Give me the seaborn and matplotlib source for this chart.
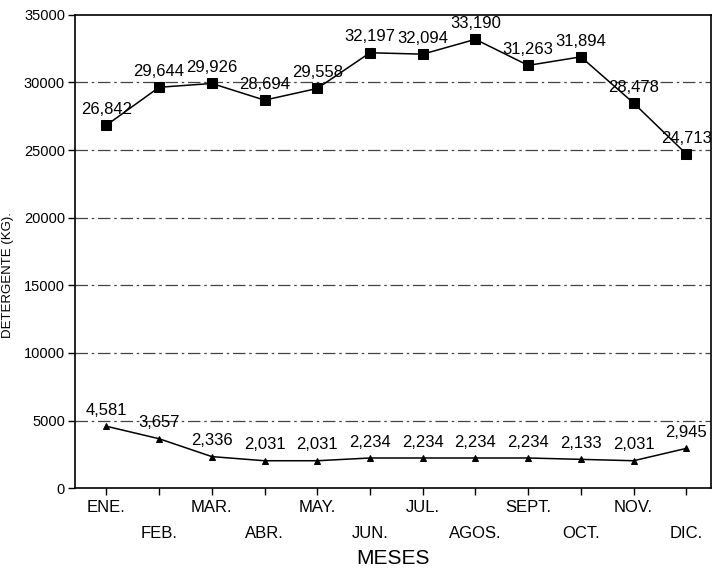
import matplotlib
matplotlib.use("Agg")
import matplotlib.pyplot as plt
import seaborn as sns
import pandas as pd

months = ["ENE.", "FEB.", "MAR.", "ABR.", "MAY.", "JUN.", "JUL.", "AGOS.",
          "SEPT.", "OCT.", "NOV.", "DIC."]
serie_alta = [26842, 29644, 29926, 28694, 29558, 32197, 32094, 33190,
              31263, 31894, 28478, 24713]
serie_baja = [4581, 3657, 2336, 2031, 2031, 2234, 2234, 2234,
              2234, 2133, 2031, 2945]
y_ticks = [0, 5000, 10000, 15000, 20000, 25000, 30000, 35000]

sns.set_style("ticks")
plt.rcParams["font.family"] = ["Liberation Sans", "DejaVu Sans"]
plt.rcParams["text.color"] = "black"
plt.rcParams["axes.labelcolor"] = "black"
plt.rcParams["xtick.color"] = "black"
plt.rcParams["ytick.color"] = "black"

df = pd.DataFrame({
    "idx": list(range(len(months))) * 2,
    "valor": serie_alta + serie_baja,
    "serie": ["alta"] * len(months) + ["baja"] * len(months),
})

fig = plt.figure(figsize=(7.12, 5.71), dpi=100)
ax = fig.add_axes([0.105, 0.145, 0.893, 0.829])

sns.lineplot(data=df[df.serie == "alta"], x="idx", y="valor", ax=ax,
             color="black", lw=1.1, marker="s", markersize=7,
             markeredgecolor="black", legend=False)
sns.lineplot(data=df[df.serie == "baja"], x="idx", y="valor", ax=ax,
             color="black", lw=1.1, marker="^", markersize=5,
             markeredgecolor="black", legend=False)

for i, v in enumerate(serie_alta):
    ax.annotate(f"{v:,}", (i, v), xytext=(0, 6), textcoords="offset points",
                ha="center", va="bottom", fontsize=12)
for i, v in enumerate(serie_baja):
    ax.annotate(f"{v:,}", (i, v), xytext=(0, 6), textcoords="offset points",
                ha="center", va="bottom", fontsize=12)

ax.set_xlim(-0.6, 11.46)
ax.set_ylim(0, 35000)
ax.set_yticks(y_ticks)
ax.set_yticklabels([str(t) for t in y_ticks], fontsize=10.5)
ax.set_xticks(range(len(months)))
ax.set_xticklabels([m if i % 2 == 0 else "\n" + m for i, m in enumerate(months)],
                   fontsize=12, linespacing=1.9)
ax.tick_params(axis="both", direction="out", length=5, width=1, color="black")
ax.tick_params(axis="y", pad=2)

for t in y_ticks[1:-1]:
    ax.axhline(t, color="#444444", lw=0.9, ls=(0, (10, 3, 2, 3)), zorder=0)

for s in ax.spines.values():
    s.set_visible(True)
    s.set_color("black")
    s.set_linewidth(1.2)

ax.set_xlabel("MESES", fontsize=15, labelpad=6)
ax.set_ylabel("DETERGENTE (KG).", fontsize=9.5)
ax.yaxis.set_label_coords(-0.095, 0.45)

fig.savefig("out.png", dpi=100)
